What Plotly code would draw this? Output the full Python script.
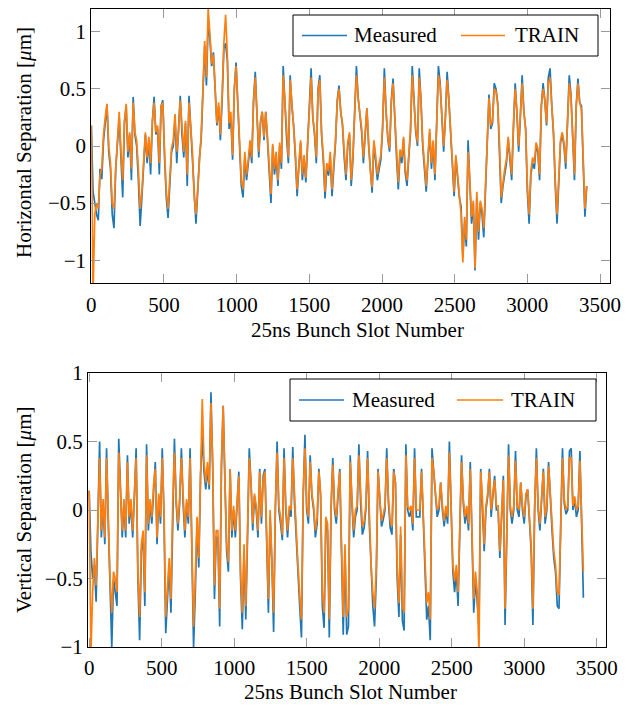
import plotly.graph_objects as go

# ---------------- data (one value every 12 bunch slots) ----------------
SLOT_STEP = 12

H_MEASURED = [
    0.18, -0.4, -0.5, -0.6, -0.65, -0.2, -0.29, 0.05, 0.2, 0.36,
    -0.05, -0.2, -0.6, -0.72, -0.2, 0.0, 0.25, -0.1, -0.45, 0.2,
    0.35, -0.1, 0.1, -0.3, 0.43, 0.1, 0.0, -0.3, -0.7, -0.45,
    -0.1, 0.1, -0.15, 0.05, -0.25, 0.2, 0.43, 0.1, 0.15, -0.25,
    0.35, 0.4, -0.1, -0.45, -0.63, -0.3, -0.05, 0.0, 0.25, -0.15,
    0.1, 0.44, 0.1, -0.1, 0.2, -0.35, 0.44, 0.15, -0.1, -0.5,
    -0.68, -0.4, -0.1, 0.06, 0.47, 0.88, 0.53, 1.09, 0.94, 0.7,
    0.82, 0.44, 0.18, 0.35, 0.05, 0.4, 0.85, 0.9, 0.75, 0.15,
    0.25, -0.12, 0.5, 0.73, 0.3, 0.0, -0.35, -0.45, -0.1, -0.3,
    -0.15, 0.0, -0.15, 0.4, 0.65, 0.3, -0.1, 0.2, 0.3, 0.05,
    0.3,
    0.05, -0.2, -0.5, 0.0, -0.25, -0.1, -0.35, 0.0, -0.2, 0.7,
    0.35, 0.06, -0.15, 0.62, 0.35, 0.18, -0.1, -0.44, -0.18, 0.03,
    -0.3, -0.12, -0.32, 0.0, 0.45, 0.68, 0.25, 0.1, -0.15, 0.5,
    0.62, 0.1, -0.12, -0.46, -0.18, -0.26, -0.1, -0.44, -0.2, 0.03,
    0.4, 0.53, 0.3, 0.18, -0.1, -0.3, 0.0, 0.1, -0.35, -0.12,
    0.3, 0.7, 0.42, 0.26, 0.12, -0.15, 0.12, 0.33, 0.0, -0.26,
    -0.41, 0.03, -0.12, -0.3, -0.2, -0.12, 0.15, 0.68, 0.3, 0.06,
    -0.05, 0.4, 0.59, 0.2, -0.1, -0.38, -0.06, -0.15, 0.06, -0.24,
    -0.35, -0.1, 0.12, 0.7, 0.38, 0.12, 0.0, 0.68, 0.4, 0.0,
    -0.2, -0.4, -0.12, 0.12, -0.2, 0.03, -0.3, 0.12, 0.7,
    0.55, 0.2, -0.05, 0.25, 0.65, 0.4, 0.1, -0.1, -0.44, -0.1,
    -0.3, -0.45, -0.53, -0.97, -0.68, -0.88, 0.05, -0.35, -0.68, -0.5,
    -1.09, -0.45, -0.82, -0.5, -0.6, -0.8, -0.4, 0.1, 0.45, 0.15,
    0.2, 0.55, 0.5, 0.38, 0.0, -0.5, -0.35, -0.24, -0.15, 0.06,
    -0.12, -0.3, 0.15, 0.55, 0.29, -0.05, 0.26, 0.62, 0.3, 0.15,
    -0.4, -0.68, -0.25, -0.15, -0.2, 0.0, -0.05, -0.3, 0.35, 0.55,
    0.4, 0.18, 0.6, 0.68, 0.35, 0.1, -0.35, -0.68, -0.32, 0.03,
    0.1, 0.0, -0.2, 0.2, 0.62, 0.45, 0.05, -0.3, 0.35, 0.59,
    0.38, 0.35, -0.15, -0.62, -0.35,
]

H_TRAIN = [
    0.18, -1.3, -0.6, -0.5, -0.55, -0.25, -0.2, 0.1, 0.25, 0.37,
    0.0, -0.15, -0.5, -0.55, -0.2, 0.02, 0.3, -0.05, -0.3, 0.22,
    0.37, -0.05, 0.12, -0.2, 0.38, 0.12, 0.05, -0.2, -0.55, -0.4,
    -0.1, 0.12, -0.1, 0.08, -0.15, 0.22, 0.38, 0.12, 0.18, -0.15,
    0.35, 0.38, -0.05, -0.4, -0.55, -0.3, -0.02, 0.05, 0.28, -0.05,
    0.12, 0.4, 0.15, -0.05, 0.22, -0.25, 0.38, 0.18, -0.05, -0.45,
    -0.6, -0.38, -0.1, 0.1, 0.5, 0.92, 0.6, 1.2, 0.98, 0.72,
    0.8, 0.45, 0.2, 0.38, 0.1, 0.45, 0.9, 1.15, 0.8, 0.2,
    0.3, -0.08, 0.5, 0.7, 0.3, 0.05, -0.3, -0.38, -0.05, -0.25,
    -0.12, 0.05, -0.1, 0.38, 0.6, 0.3, -0.05, 0.22, 0.3, 0.08,
    0.3,
    0.08, -0.15, -0.42, 0.02, -0.2, -0.05, -0.3, 0.03, -0.15, 0.62,
    0.35, 0.1, -0.1, 0.58, 0.35, 0.2, -0.05, -0.38, -0.15, 0.05,
    -0.25, -0.08, -0.28, 0.03, 0.42, 0.6, 0.25, 0.12, -0.1, 0.48,
    0.58, 0.12, -0.08, -0.4, -0.15, -0.22, -0.05, -0.38, -0.15, 0.05,
    0.38, 0.5, 0.3, 0.2, -0.05, -0.25, 0.03, 0.12, -0.3, -0.08,
    0.3, 0.62, 0.42, 0.26, 0.15, -0.1, 0.15, 0.33, 0.03, -0.22,
    -0.36, 0.05, -0.08, -0.25, -0.15, -0.08, 0.18, 0.6, 0.3, 0.08,
    -0.02, 0.38, 0.55, 0.22, -0.05, -0.32, -0.03, -0.1, 0.08, -0.2,
    -0.3, -0.06, 0.15, 0.62, 0.38, 0.15, 0.03, 0.6, 0.4, 0.03,
    -0.15, -0.35, -0.1, 0.15, -0.15, 0.05, -0.25, 0.15, 0.62,
    0.52, 0.22, 0.0, 0.25, 0.58, 0.4, 0.12, -0.06, -0.4, -0.08,
    -0.25, -0.42, -0.6, -1.02, -0.62, -0.82, -0.05, -0.3, -0.62, -0.48,
    -1.07, -0.4, -0.75, -0.48, -0.55, -0.72, -0.35, 0.12, 0.42, 0.18,
    0.22, 0.5, 0.48, 0.36, 0.03, -0.45, -0.3, -0.2, -0.12, 0.08,
    -0.08, -0.25, 0.18, 0.5, 0.3, 0.0, 0.28, 0.55, 0.3, 0.15,
    -0.35, -0.6, -0.22, -0.1, -0.15, 0.03, -0.02, -0.25, 0.35, 0.5,
    0.4, 0.2, 0.55, 0.6, 0.35, 0.12, -0.3, -0.6, -0.28, 0.05,
    0.12, 0.03, -0.15, 0.22, 0.55, 0.42, 0.08, -0.25, 0.35, 0.55,
    0.38, 0.32, -0.1, -0.55, -0.35,
]

V_MEASURED = [
    0.14, -0.3, -0.5, -0.4, -0.67, -0.1, 0.5, -0.2, 0.05, -0.25,
    0.45, -0.1, -0.6, -1.0, -0.5, -0.6, -0.7, 0.52, 0.1, -0.2,
    0.05, -0.2, 0.4, -0.1, 0.05, -0.2, 0.1, 0.45, -0.5, -0.95,
    -0.3, -0.2, -0.7, 0.48, -0.15, 0.05, -0.1, 0.15, 0.35, -0.25,
    0.1, -0.1, 0.45, -0.05, -0.9, -0.65, -0.4, -0.75, 0.0, 0.52,
    0.05, -0.15, 0.05, 0.45, 0.05, -0.2, 0.05, -0.1, 0.45, -0.3,
    -1.0, -0.6, -0.1, -0.42, 0.25, 0.55, 0.28, 0.15, 0.3, 0.15,
    0.86, 0.3, -0.65, -0.2, -0.2, -0.85, 0.3, 0.76, 0.2, -0.3,
    -0.45, 0.3, -0.2, 0.0, -0.2, 0.0, 0.28, -0.5, -0.87, -0.3,
    -0.8, -0.2, 0.45, 0.2, -0.15, 0.1, 0.0, -0.2, 0.3, -0.1,
    0.25, 0.3, -0.35, -0.75, -0.05, -0.38, -0.89, 0.0, 0.5, 0.0,
    -0.1, -0.22, 0.45, 0.0, -0.2, 0.0, -0.05, 0.46, 0.05, -0.25,
    -0.45, -0.7, -0.93, 0.1, 0.55, 0.0, -0.1, 0.4, 0.1, 0.0,
    -0.2, -0.1, 0.3, 0.1, -0.7, -0.86, -0.1, -0.15, -0.93, 0.0,
    0.38, 0.0, -0.1, 0.1, 0.3, -0.3, -0.91, -0.3, -0.91, -0.85,
    0.4, 0.05, -0.2, -0.05, 0.0, 0.48, 0.05, -0.18, -0.13, 0.0,
    0.43, -0.1, -0.45, -0.7, -0.85, -0.5, 0.3, 0.05, -0.12, -0.07,
    0.0, 0.45, 0.05, -0.13, -0.18, 0.3, 0.2, -0.5, -0.78, -0.18,
    -0.81, -0.88, 0.48, 0.0, -0.05, 0.0, -0.15, 0.45, -0.05, -0.05,
    -0.05, 0.3, -0.05, -0.35, -0.8, -0.7, -0.95, 0.45, 0.3,
    0.1, -0.05, 0.0, 0.2, 0.0, -0.12, 0.0, -0.1, 0.5, 0.0,
    -0.45, -0.6, -0.45, -0.7, -0.1, 0.4, 0.05, -0.1, 0.0, -0.15,
    0.35, -0.2, -0.75, -0.5, -0.7, -0.85, 0.3, 0.05, -0.3, 0.0,
    0.1, 0.3, -0.05, 0.1, 0.25, 0.0, 0.0, -0.35, -0.1, 0.25,
    -0.84, -0.1, 0.48, 0.0, -0.1, 0.0, 0.43, 0.0, -0.05, 0.2,
    0.0, -0.1, 0.1, 0.15, -0.1, -0.3, -0.84, 0.0, 0.45, 0.0,
    -0.15, 0.05, 0.3, -0.1, 0.0, 0.35, 0.05, -0.15, -0.35, -0.45,
    -0.7, -0.72, -0.1, 0.45, 0.05, -0.03, 0.0, 0.43, 0.45, 0.0,
    0.08, -0.05, 0.0, 0.43, -0.1, -0.64,
]

V_TRAIN = [
    0.14, -1.05, -0.6, -0.35, -0.55, -0.05, 0.38, -0.15, 0.08, -0.2,
    0.38, -0.05, -0.5, -0.75, -0.45, -0.5, -0.6, 0.42, 0.12, -0.15,
    0.08, -0.15, 0.35, -0.05, 0.08, -0.15, 0.12, 0.38, -0.45, -0.78,
    -0.25, -0.15, -0.6, 0.4, -0.1, 0.08, -0.05, 0.18, 0.3, -0.2,
    0.12, -0.05, 0.38, 0.0, -0.78, -0.55, -0.35, -0.65, 0.05, 0.42,
    0.08, -0.1, 0.08, 0.38, 0.08, -0.15, 0.08, -0.05, 0.38, -0.25,
    -0.85, -0.5, -0.05, -0.35, 0.3, 0.81, 0.35, 0.2, 0.35, 0.18,
    0.78, 0.35, -0.55, -0.15, -0.15, -0.72, 0.35, 0.76, 0.22, -0.25,
    -0.38, 0.3, -0.15, 0.03, -0.15, 0.03, 0.25, -0.45, -0.75, -0.25,
    -0.7, -0.15, 0.38, 0.2, -0.1, 0.12, 0.03, -0.15, 0.28, -0.05,
    0.22, 0.28, -0.3, -0.65, 0.0, -0.32, -0.75, 0.03, 0.42, 0.03,
    -0.05, -0.18, 0.38, 0.03, -0.15, 0.03, 0.0, 0.38, 0.08, -0.2,
    -0.4, -0.62, -0.8, 0.12, 0.45, 0.03, -0.05, 0.35, 0.12, 0.03,
    -0.15, -0.05, 0.28, 0.12, -0.6, -0.75, -0.05, -0.1, -0.8, 0.03,
    0.33, 0.03, -0.05, 0.12, 0.28, -0.25, -0.78, -0.25, -0.78, -0.72,
    0.35, 0.08, -0.15, 0.0, 0.03, 0.4, 0.08, -0.12, -0.08, 0.03,
    0.38, -0.05, -0.4, -0.6, -0.72, -0.42, 0.28, 0.08, -0.08, -0.03,
    0.03, 0.38, 0.08, -0.08, -0.12, 0.28, 0.2, -0.42, -0.68, -0.12,
    -0.7, -0.75, 0.4, 0.03, 0.0, 0.03, -0.1, 0.38, 0.0, 0.0,
    0.0, 0.28, 0.0, -0.3, -0.68, -0.6, -0.8, 0.38, 0.28,
    0.12, 0.0, 0.03, 0.2, 0.03, -0.08, 0.03, -0.05, 0.42, 0.03,
    -0.4, -0.52, -0.4, -0.6, -0.05, 0.35, 0.08, -0.05, 0.03, -0.1,
    0.3, -0.15, -0.65, -0.45, -0.6, -1.05, 0.28, 0.08, -0.25, 0.03,
    0.12, 0.28, 0.0, 0.12, 0.22, 0.03, 0.03, -0.3, -0.05, 0.22,
    -0.72, -0.05, 0.4, 0.03, -0.05, 0.03, 0.36, 0.03, 0.0, 0.2,
    0.03, -0.05, 0.12, 0.15, -0.05, -0.25, -0.72, 0.03, 0.38, 0.03,
    -0.1, 0.08, 0.28, -0.05, 0.03, 0.32, 0.08, -0.1, -0.3, -0.4,
    -0.6, -0.62, -0.05, 0.38, 0.08, 0.0, 0.03, 0.38, 0.38, 0.03,
    0.1, 0.0, 0.03, 0.36, -0.05, -0.45,
]

X_TICKS = [0, 500, 1000, 1500, 2000, 2500, 3000, 3500]
Y_TICKS = [-1, -0.5, 0, 0.5, 1]
SERIES_NAMES = ["Measured", "TRAIN"]
COLORS = ["#1f77b4", "#ff7f0e"]
X_TITLE = "25ns Bunch Slot Number"
Y_TITLE_TOP = "Horizontal Separation [<i>μ</i>m]"
Y_TITLE_BOTTOM = "Vertical Separation [<i>μ</i>m]"

# ---------------- figure ----------------
W, H = 641, 706
FONT = "Liberation Serif"
FS = 21


def px(x):
    return x / W


def py(y):
    return 1 - y / H


slots_h = [i * SLOT_STEP for i in range(len(H_MEASURED))]
slots_v = [i * SLOT_STEP for i in range(len(V_MEASURED))]

fig = go.Figure()
for name, col, ys in zip(SERIES_NAMES, COLORS, [H_MEASURED, H_TRAIN]):
    fig.add_trace(go.Scatter(x=slots_h, y=ys, mode="lines", name=name,
                             line=dict(color=col, width=1.7),
                             xaxis="x", yaxis="y", showlegend=False))
for name, col, ys in zip(SERIES_NAMES, COLORS, [V_MEASURED, V_TRAIN]):
    fig.add_trace(go.Scatter(x=slots_v, y=ys, mode="lines", name=name,
                             line=dict(color=col, width=1.7),
                             xaxis="x2", yaxis="y2", showlegend=False))

axis_common = dict(
    ticks="inside", ticklen=9, tickwidth=1, tickcolor="#9a9a9a",
    showline=True, linecolor="black", linewidth=1, mirror="allticks",
    showgrid=False, zeroline=False, automargin=False,
    tickfont=dict(family=FONT, size=FS, color="black"),
)

fig.update_layout(
    width=W, height=H,
    margin=dict(l=0, r=0, t=0, b=0),
    paper_bgcolor="white", plot_bgcolor="white",
    font=dict(family=FONT, size=FS, color="black"),
    xaxis=dict(domain=[px(91.3), px(609.5)], range=[0, 3565], anchor="y",
               tickvals=X_TICKS, ticklabelstandoff=3, **axis_common),
    yaxis=dict(domain=[py(283), py(9)], range=[-1.2, 1.2], anchor="x",
               tickvals=Y_TICKS, **axis_common),
    xaxis2=dict(domain=[px(88), px(606)], range=[-8, 3564], anchor="y2",
                tickvals=X_TICKS, ticklabelstandoff=2, **axis_common),
    yaxis2=dict(domain=[py(647), py(373)], range=[-1, 1], anchor="x2",
                tickvals=Y_TICKS, **axis_common),
    showlegend=False,
)

annotations = []
shapes = []
tfont = dict(family=FONT, size=FS, color="black")

# axis titles
annotations.append(dict(x=px(357), y=py(330), xref="paper", yref="paper", text=X_TITLE,
                        showarrow=False, font=tfont, xanchor="center", yanchor="middle"))
annotations.append(dict(x=px(350), y=py(692), xref="paper", yref="paper", text=X_TITLE,
                        showarrow=False, font=tfont, xanchor="center", yanchor="middle"))
annotations.append(dict(x=px(24), y=py(143), xref="paper", yref="paper", text=Y_TITLE_TOP,
                        showarrow=False, font=tfont, textangle=-90, xanchor="center", yanchor="middle"))
annotations.append(dict(x=px(24), y=py(510), xref="paper", yref="paper", text=Y_TITLE_BOTTOM,
                        showarrow=False, font=tfont, textangle=-90, xanchor="center", yanchor="middle"))

# legends (box, line samples, labels)
LEGENDS = [
    dict(box=(293, 15, 598, 56), samples=[(302, 347, 352), (461, 505, 513)]),
    dict(box=(290, 379, 596, 421), samples=[(299, 344, 350), (457, 503, 509)]),
]
for lg in LEGENDS:
    x0, y0, x1, y1 = lg["box"]
    shapes.append(dict(type="rect", xref="paper", yref="paper",
                       x0=px(x0), x1=px(x1), y0=py(y1), y1=py(y0),
                       line=dict(color="black", width=1), fillcolor="white", layer="above"))
    ymid = (y0 + y1) / 2
    for (sx0, sx1, tx), name, col in zip(lg["samples"], SERIES_NAMES, COLORS):
        shapes.append(dict(type="line", xref="paper", yref="paper",
                           x0=px(sx0), x1=px(sx1), y0=py(ymid), y1=py(ymid),
                           line=dict(color=col, width=1.5), layer="above"))
        annotations.append(dict(x=px(tx), y=py(ymid), xref="paper", yref="paper", text=name,
                                showarrow=False, font=tfont, xanchor="left", yanchor="middle"))

fig.update_layout(annotations=annotations, shapes=shapes)
fig.write_html("out.html")
